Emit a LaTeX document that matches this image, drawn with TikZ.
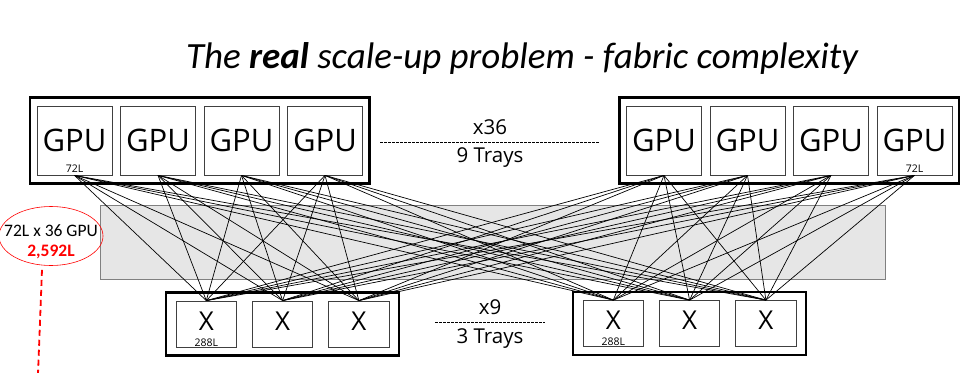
\documentclass[tikz,border=0pt]{standalone}
\usepackage{fontspec}
\setmainfont{Open Sans}
\newfontfamily\titlefont{Carlito}
\newfontfamily\notefont{Carlito}
\usetikzlibrary{positioning,fit,shapes.geometric}
\definecolor{fabricgray}{HTML}{E6E6E6}
\definecolor{notered}{HTML}{FF0000}

\begin{document}
\begin{tikzpicture}[
   x=1pt,y=-1pt,
   node distance=7.7pt,
   gpu/.style={draw=black!75,line width=0.8pt,minimum width=75pt,minimum height=69pt,
               inner sep=0pt,font=\fontsize{31}{31}\selectfont},
   sw/.style={draw=black!75,line width=0.8pt,minimum width=60.5pt,minimum height=46pt,
              inner sep=0pt,text depth=6pt,font=\fontsize{26}{26}\selectfont},
   tray/.style={draw,line width=2.4pt,inner xsep=6.5pt,inner ysep=8pt},
   lanes/.style={font=\fontsize{10.5}{10.5}\selectfont,inner sep=0pt},
   count/.style={font=\fontsize{20.5}{20.5}\selectfont,inner sep=0pt},
   sep/.style={dash pattern=on 2.5pt off 1.5pt,line width=0.6pt},
   lnk/.style={line width=0.7pt},
   total/.style={ellipse,draw=notered,line width=0.6pt,minimum width=104pt,minimum height=59pt}
 ]
  \useasboundingbox (0,0) rectangle (966,372);
  % title
  \node[font=\titlefont\itshape\fontsize{37}{37}\selectfont] (title) at (522,58)
       {The \textbf{real} scale-up problem - fabric complexity};
  % fabric area
  \node[draw=black!50,fill=fabricgray,line width=0.6pt,minimum width=785pt,minimum height=74pt,
        inner sep=0pt] (fabric) at (492.5,242.5) {};
  % GPU trays
  \node[gpu] (g1) at (74.5,140.5) {GPU};
  \node[gpu,right=of g1] (g2) {GPU};
  \node[gpu,right=of g2] (g3) {GPU};
  \node[gpu,right=of g3] (g4) {GPU};
  \node[gpu] (g5) at (664,140.5) {GPU};
  \node[gpu,right=of g5] (g6) {GPU};
  \node[gpu,right=of g6] (g7) {GPU};
  \node[gpu,right=of g7] (g8) {GPU};
  \node[lanes,above=2.5pt of g1.south] (g1lanes) {72L};
  \node[lanes,above=2.5pt of g8.south] (g8lanes) {72L};
  \node[tray,fit=(g1)(g4)] (gtrayL) {};
  \node[tray,fit=(g5)(g8)] (gtrayR) {};
  % switch trays
  \begin{scope}[node distance=15pt]
  \node[sw] (s1) at (206.3,324) {X};
  \node[sw,right=of s1] (s2) {X};
  \node[sw,right=of s2] (s3) {X};
  \node[sw] (s4) at (613.3,323.5) {X};
  \node[sw,right=of s4] (s5) {X};
  \node[sw,right=of s5] (s6) {X};
  \end{scope}
  \node[lanes,above=1pt of s1.south] (s1lanes) {288L};
  \node[lanes,above=1pt of s4.south] (s4lanes) {288L};
  \node[tray,fit=(s1)(s3),inner xsep=9.5pt] (strayL) {};
  \node[tray,fit=(s4)(s6),inner xsep=9.5pt] (strayR) {};
  % counts
  \node[count] (gpucount) at (490,127) {x36};
  \node[count] (gtrays) at (490,158) {9 Trays};
  \coordinate (gsepL) at (380,142);
  \coordinate (gsepR) at (599,142);
  \draw[sep] (gsepL) -- (gsepR);
  \node[count] (swcount) at (490,307) {x9};
  \node[count] (strays) at (490,339) {3 Trays};
  \coordinate (ssepL) at (435,322);
  \coordinate (ssepR) at (545,322);
  \draw[sep] (ssepL) -- (ssepR);
  % links: every GPU to every switch
  \foreach \g in {1,...,8}
    \foreach \s in {1,...,6}
      \draw[lnk] (g\g.south) -- (s\s.north);
  % lane total
  \node[total] (sum) at (51,236) {};
  \node[font=\notefont\fontsize{17.5}{17.5}\selectfont,inner sep=0pt] (sumtop) at (51,231) {72L x 36 GPU};
  \node[font=\notefont\bfseries\fontsize{17.5}{17.5}\selectfont,text=notered,inner sep=0pt]
       (sumbot) at (51,252) {2,592L};
  \coordinate (tail) at (38,374);
  \draw[notered,line width=1.8pt,dash pattern=on 6pt off 4pt] ([xshift=-9pt,yshift=-4pt]sum.south) -- (tail);
 \end{tikzpicture}
\end{document}
